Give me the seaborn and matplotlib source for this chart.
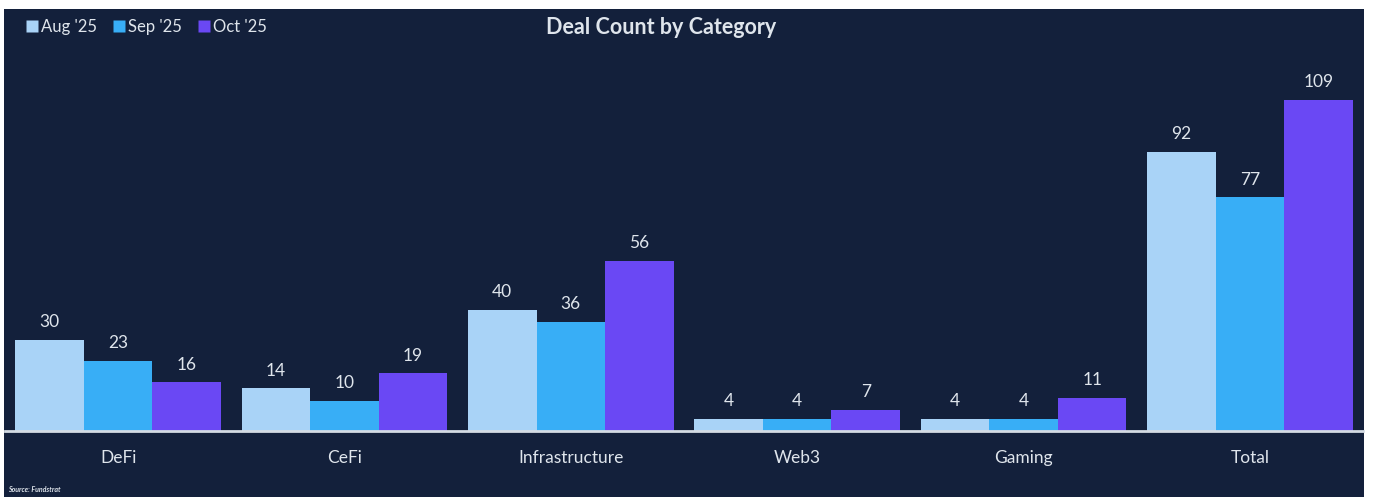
import pandas as pd
import numpy as np
import matplotlib
matplotlib.use('Agg')
import matplotlib.pyplot as plt
from matplotlib.patches import Rectangle
from matplotlib.lines import Line2D
import seaborn as sns

# данные графика
categories = ['DeFi', 'CeFi', 'Infrastructure', 'Web3', 'Gaming', 'Total']
months = ["Aug '25", "Sep '25", "Oct '25"]
aug_vals = [30, 14, 40, 4, 4, 92]
sep_vals = [23, 10, 36, 4, 4, 77]
oct_vals = [16, 19, 56, 7, 11, 109]

colors = ['#a9d3f7', '#38aef6', '#6a48f4']
bg = '#13203b'
txt = '#dfe5ec'

df = pd.DataFrame({
    'Category': categories * 3,
    'Month': [months[0]] * 6 + [months[1]] * 6 + [months[2]] * 6,
    'Deals': aug_vals + sep_vals + oct_vals,
})

sns.set_style('white')
plt.rcParams['font.family'] = ['Lato', 'DejaVu Sans']

W, H = 1375, 497
fig = plt.figure(figsize=(W / 100, H / 100), dpi=100, facecolor='white')

# тёмная панель (под осями)
fig.add_artist(Rectangle((4 / W, 0), 1360 / W, (H - 9) / H,
                         transform=fig.transFigure, facecolor=bg,
                         edgecolor='none', zorder=-10))

ax = fig.add_axes([5 / W, (H - 431) / H, 1358 / W, 422 / H])
ax.set_facecolor('none')
ax.patch.set_visible(False)

sns.barplot(data=df, x='Category', y='Deals', hue='Month', order=categories,
            hue_order=months, palette=colors, width=0.91, gap=0,
            saturation=1, legend=False, linewidth=0, ax=ax)

ax.set_xlim(-0.5, 5.5)
ax.set_ylim(0, 139)
for s in ['top', 'right', 'left']:
    ax.spines[s].set_visible(False)
ax.spines['bottom'].set_color('#d4dbe3')
ax.spines['bottom'].set_linewidth(2)
ax.spines['bottom'].set_zorder(5)
ax.set_yticks([])
ax.set_xlabel('')
ax.set_ylabel('')
ax.tick_params(axis='x', length=0, pad=14, labelsize=12.5, labelcolor=txt)

for cont in ax.containers:
    ax.bar_label(cont, padding=7, fontsize=12.5, color=txt)

fig.text(661 / W, 1 - 28 / H, 'Deal Count by Category', ha='center',
         va='center', fontsize=15.5, fontweight='bold', color=txt)

handles = [Line2D([], [], marker='s', linestyle='none', markersize=8,
                  markerfacecolor=c, markeredgecolor='none') for c in colors]
leg = fig.legend(handles, months, loc='center left',
                 bbox_to_anchor=(12 / W, 1 - 27 / H), ncol=3, frameon=False,
                 handlelength=0.6, handletextpad=0.25, columnspacing=1.0,
                 fontsize=12)
for t in leg.get_texts():
    t.set_color(txt)

fig.text(8 / W, 1 - 490 / H, 'Source: Fundstrat', ha='left', va='center',
         fontsize=5, fontweight='bold', fontstyle='italic', color=txt)

fig.savefig('out.png', dpi=100, facecolor='white')
